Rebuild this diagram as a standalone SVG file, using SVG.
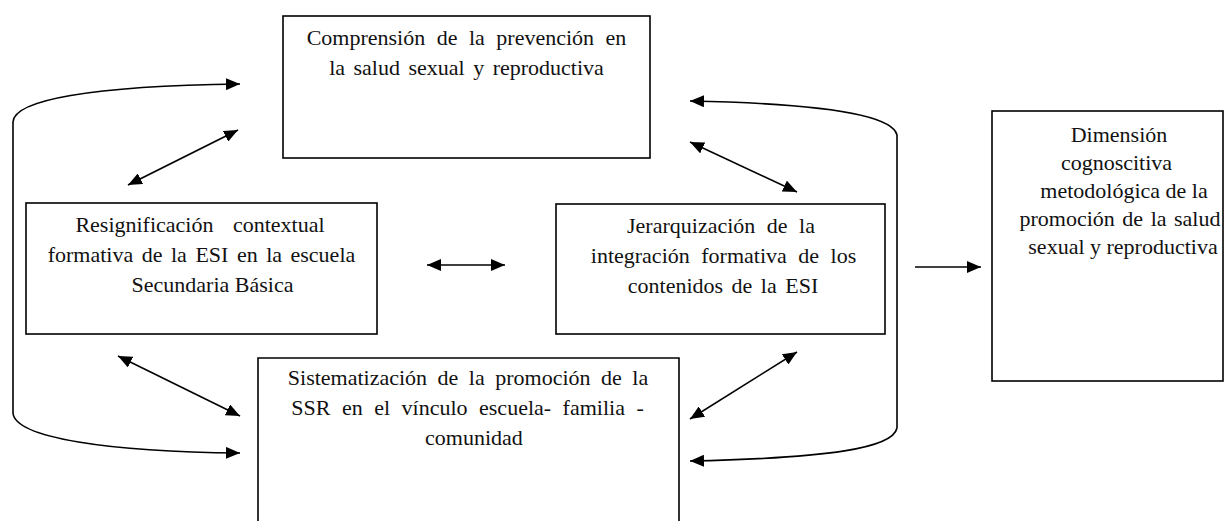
<svg xmlns="http://www.w3.org/2000/svg" width="1224" height="521" viewBox="0 0 1224 521">
<defs>
<marker id="ah" viewBox="0 0 14 12" refX="14" refY="6" markerWidth="14" markerHeight="12" markerUnits="userSpaceOnUse" orient="auto-start-reverse">
<path d="M0,0 L14,6 L0,12 Z" fill="#000"/>
</marker>
<style>
.box{fill:#fff;stroke:#000;stroke-width:1.6}
.c{fill:none;stroke:#000;stroke-width:1.6}
text{font-family:"Liberation Serif","Times New Roman",serif;font-size:22px;fill:#111;text-anchor:middle}
</style>
</defs>
<rect width="1224" height="521" fill="#fff"/>
<g id="connectors">
<path class="c" d="M13,413 L13,122 C14,100 90,86 240,84" marker-end="url(#ah)"/>
<path class="c" d="M13,413 C15,438 110,452 240,453" marker-end="url(#ah)"/>
<path class="c" d="M897,428 L897,135 C893,118 840,104 690,101" marker-end="url(#ah)"/>
<path class="c" d="M897,428 C893,448 830,458 690,461" marker-end="url(#ah)"/>
<path class="c" d="M128,185 L238,130" marker-start="url(#ah)" marker-end="url(#ah)"/>
<path class="c" d="M690,142 L797,192" marker-start="url(#ah)" marker-end="url(#ah)"/>
<path class="c" d="M427,265 L505,265" marker-start="url(#ah)" marker-end="url(#ah)"/>
<path class="c" d="M118,356 L240,416" marker-start="url(#ah)" marker-end="url(#ah)"/>
<path class="c" d="M690,419 L797,352" marker-start="url(#ah)" marker-end="url(#ah)"/>
<path class="c" d="M915,267 L981,267" marker-end="url(#ah)"/>
</g>
<g id="n1">
<rect class="box" x="283" y="16" width="367" height="142"/>
<text x="466.5" y="45" word-spacing="6">Comprensión de la prevención en</text>
<text x="466.5" y="75" word-spacing="3">la salud sexual y reproductiva</text>
</g>
<g id="n2">
<rect class="box" x="26" y="203" width="351" height="131"/>
<text x="200" y="232" word-spacing="14">Resignificación contextual</text>
<text x="201.5" y="262" word-spacing="3">formativa de la ESI en la escuela</text>
<text x="212.5" y="292">Secundaria Básica</text>
</g>
<g id="n3">
<rect class="box" x="556" y="204" width="329" height="130"/>
<text x="721" y="233" word-spacing="6">Jerarquización de la</text>
<text x="723.5" y="263" word-spacing="6">integración formativa de los</text>
<text x="723" y="293" word-spacing="3">contenidos de la ESI</text>
</g>
<g id="n4">
<path class="box" d="M258,530 L258,358 L679,358 L679,530"/>
<text x="468" y="385" word-spacing="5">Sistematización de la promoción de la</text>
<text x="467.5" y="415" word-spacing="6">SSR en el vínculo escuela- familia -</text>
<text x="474" y="445">comunidad</text>
</g>
<g id="n5">
<rect class="box" x="992" y="111" width="231" height="270"/>
<text x="1119" y="142">Dimensión</text>
<text x="1116.5" y="170">cognoscitiva</text>
<text x="1124" y="198">metodológica de la</text>
<text x="1120" y="226" word-spacing="2">promoción de la salud</text>
<text x="1123" y="254">sexual y reproductiva</text>
</g>
</svg>
